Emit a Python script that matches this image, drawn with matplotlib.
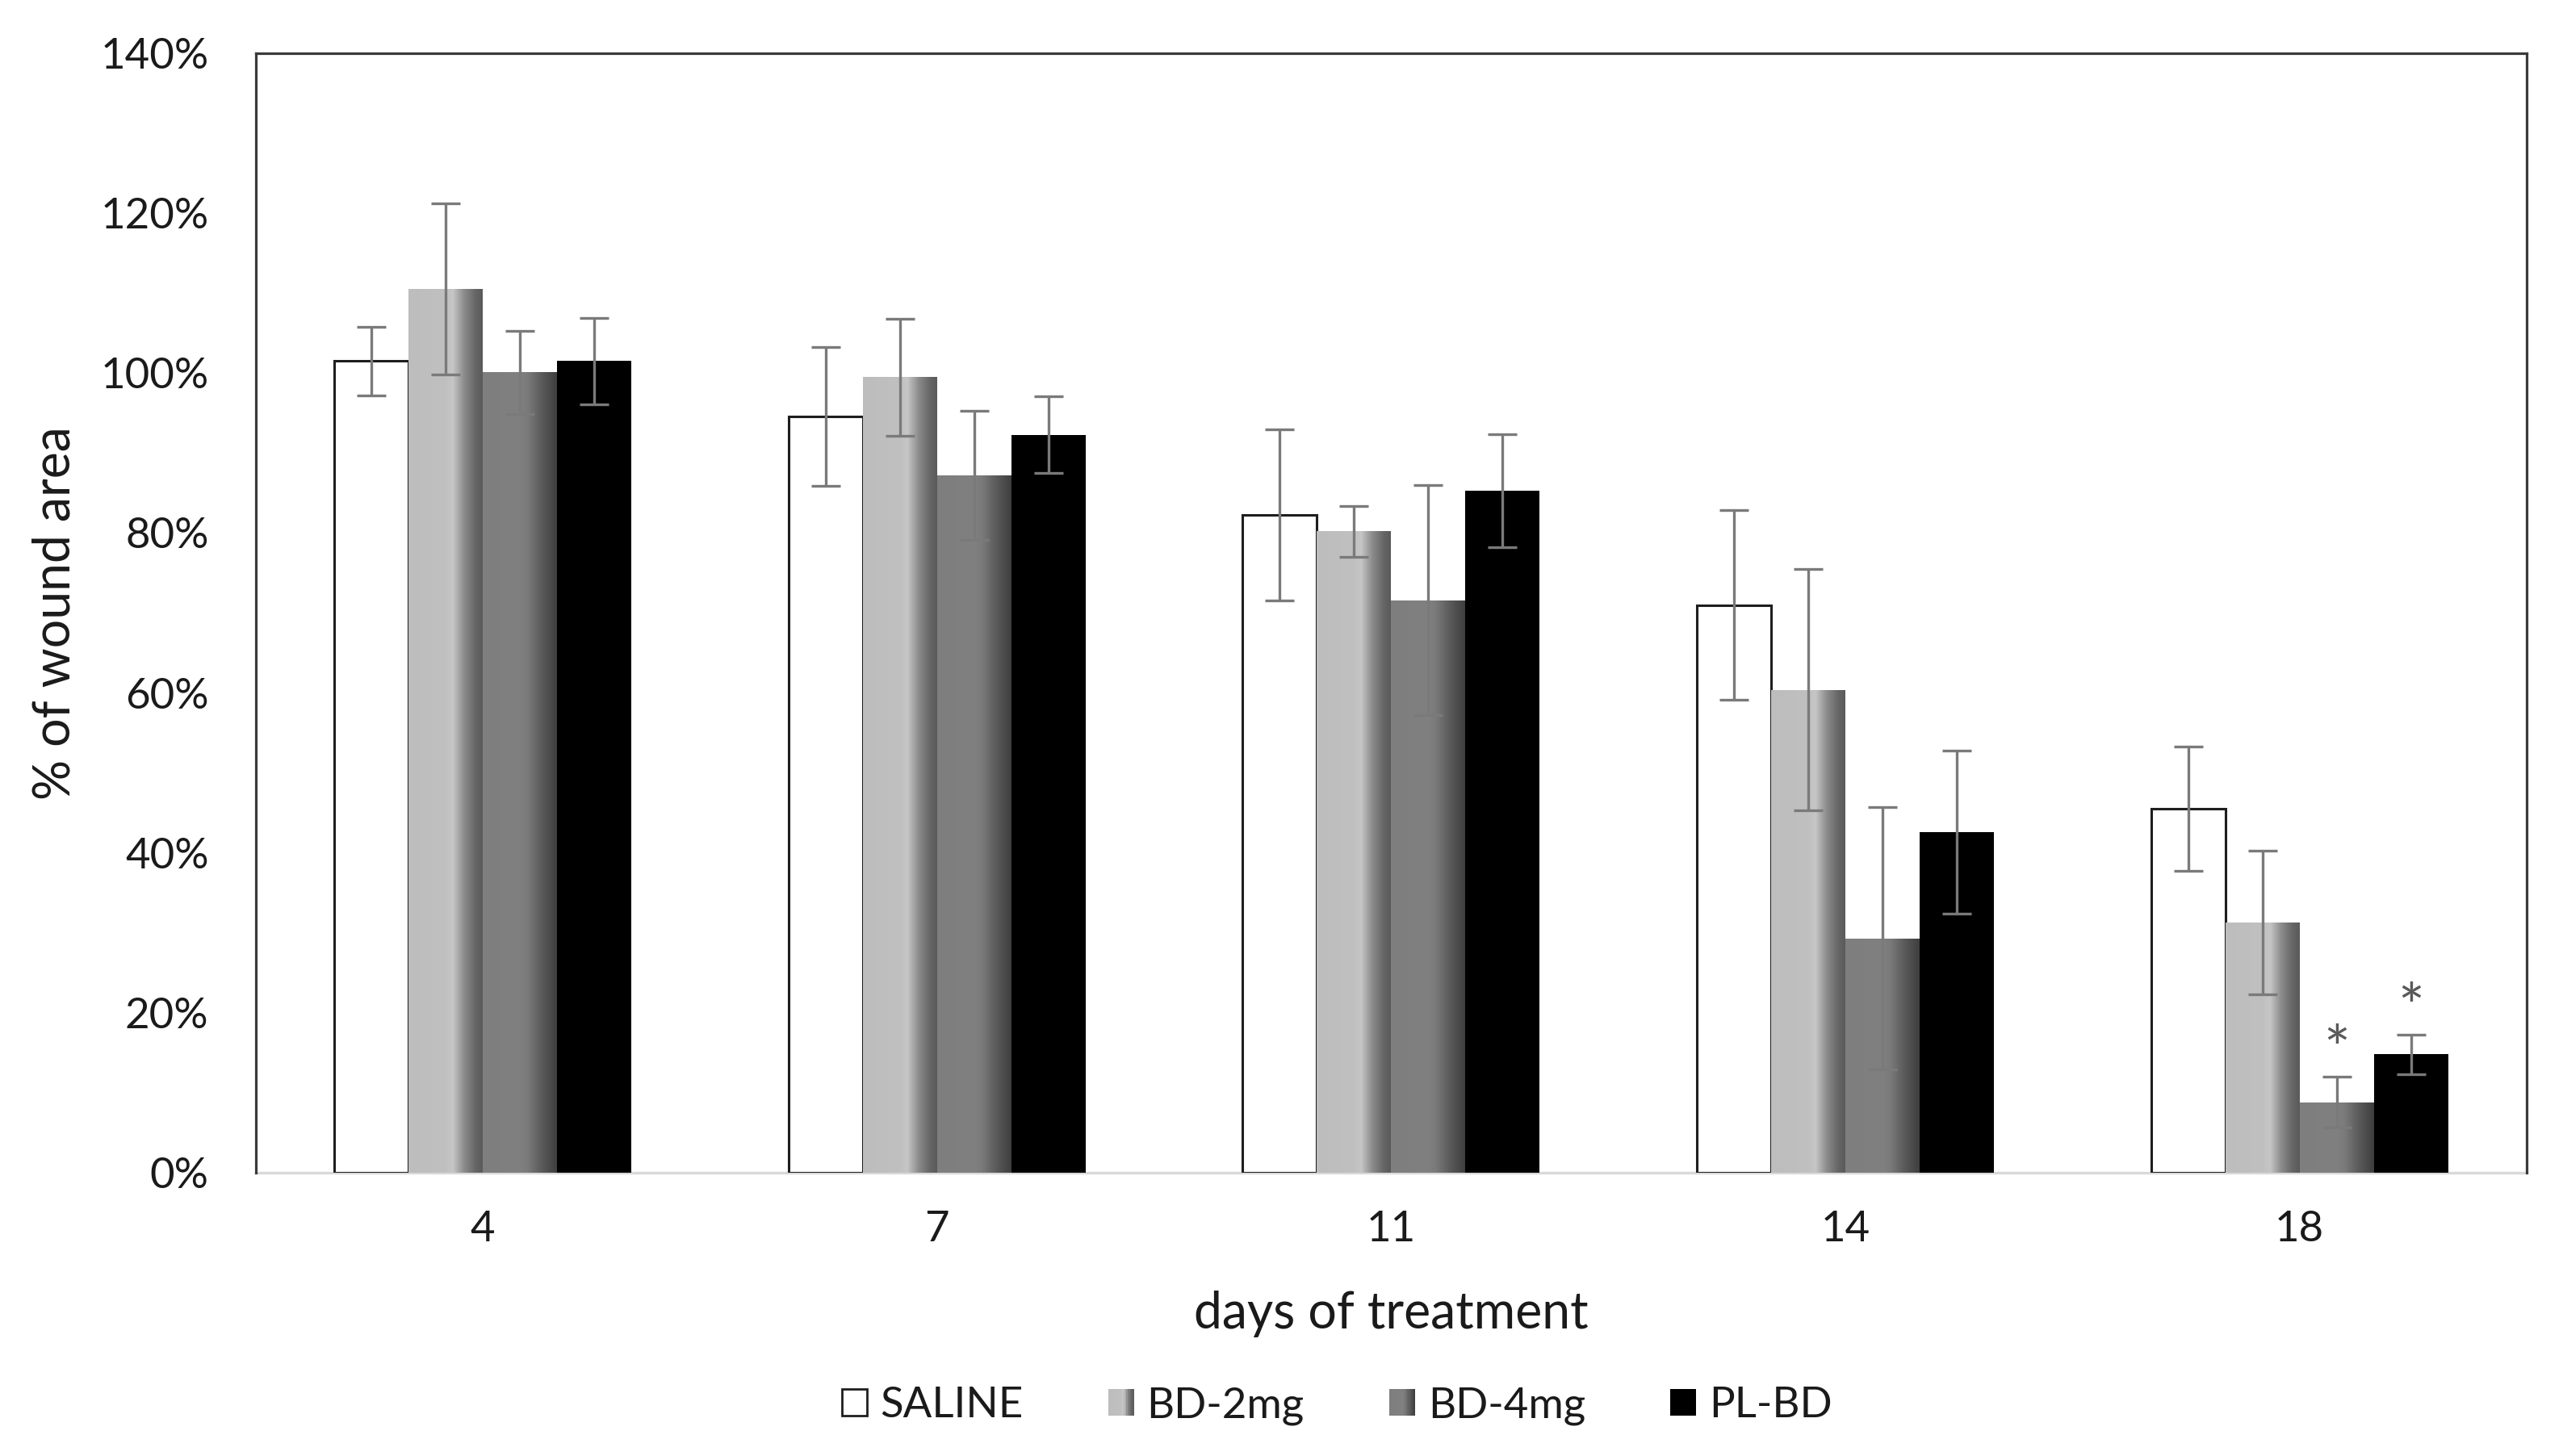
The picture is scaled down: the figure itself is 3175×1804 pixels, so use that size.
import numpy as np
import matplotlib
matplotlib.use('Agg')
import matplotlib.pyplot as plt
from matplotlib.colors import LinearSegmentedColormap
from matplotlib.patches import Rectangle
from matplotlib.legend_handler import HandlerBase
from matplotlib.ticker import PercentFormatter

plt.rcParams['font.family'] = ['Lato', 'DejaVu Sans']

# datos (% de area de herida)
days = ['4', '7', '11', '14', '18']
groups = ['SALINE', 'BD-2mg', 'BD-4mg', 'PL-BD']

saline = [101.5, 94.6, 82.3, 71.0, 45.5]
saline_err = [4.3, 8.7, 10.7, 11.9, 7.8]
bd2 = [110.5, 99.5, 80.2, 60.4, 31.3]
bd2_err = [10.7, 7.3, 3.2, 15.1, 9.0]
bd4 = [100.1, 87.2, 71.6, 29.3, 8.8]
bd4_err = [5.2, 8.1, 14.4, 16.4, 3.2]
plbd = [101.5, 92.3, 85.3, 42.6, 14.8]
plbd_err = [5.4, 4.8, 7.1, 10.2, 2.5]

# barras con asterisco: (indice del dia, indice del grupo)
stars = [(4, 2), (4, 3)]

values = [saline, bd2, bd4, plbd]
errors = [saline_err, bd2_err, bd4_err, plbd_err]

# degradados tipo Excel
cm_bd2 = LinearSegmentedColormap.from_list('bd2', [
    (0.0, '#bdbdbd'), (0.5, '#c0c0c0'), (0.6, '#c6c6c6'),
    (0.75, '#8c8c8c'), (0.9, '#676767'), (1.0, '#5a5a5a')])
cm_bd4 = LinearSegmentedColormap.from_list('bd4', [
    (0.0, '#7e7e7e'), (0.5, '#808080'), (0.6, '#7b7b7b'),
    (0.8, '#5a5a5a'), (1.0, '#3e3e3e')])
fills = ['white', cm_bd2, cm_bd4, 'black']

fig = plt.figure(figsize=(31.75, 18.04), dpi=100)
ax = fig.add_axes([0.0998, 0.1946, 0.886, 0.7688])

x = np.arange(len(days))
w = 0.1635
grad = np.linspace(0, 1, 256).reshape(1, -1)

for i, (vals, errs, fill) in enumerate(zip(values, errors, fills)):
    pos = x + (i - 1.5) * w
    if isinstance(fill, str):
        edge = '#1e1e1e' if fill == 'white' else 'none'
        ax.bar(pos, vals, w, color=fill, edgecolor=edge, linewidth=2.2, zorder=2)
    else:
        bars = ax.bar(pos, vals, w, color='none', edgecolor='none', zorder=2)
        for b in bars:
            x0, h = b.get_x(), b.get_height()
            im = ax.imshow(grad, extent=[x0, x0 + w, 0, h], cmap=fill,
                           aspect='auto', interpolation='bilinear', zorder=2)
            im.set_clip_path(b)
    ax.errorbar(pos, vals, yerr=errs, fmt='none', ecolor='#7a7a7a',
                elinewidth=2.4, capsize=13, capthick=2.4, zorder=3)

for d, g in stars:
    xs = x[d] + (g - 1.5) * w
    ax.text(xs, values[g][d] + errors[g][d] + 0.7, '*', ha='center', va='baseline',
            fontsize=56, color='#595959', zorder=4)

ax.set_xlim(-0.5, 4.5)
ax.set_ylim(0, 140)
ax.set_yticks(np.arange(0, 141, 20))
ax.yaxis.set_major_formatter(PercentFormatter(xmax=100, decimals=0))
ax.set_xticks(x)
ax.set_xticklabels(days)
ax.tick_params(axis='both', length=0, labelsize=38, colors='#1a1a1a')
ax.tick_params(axis='y', pad=42)
ax.tick_params(axis='x', pad=34)

for s in ['top', 'right', 'left']:
    ax.spines[s].set_color('#3a3a3a')
    ax.spines[s].set_linewidth(2.3)
ax.spines['bottom'].set_color('#d9d9d9')
ax.spines['bottom'].set_linewidth(2.4)
ax.spines['bottom'].set_zorder(1)

ax.set_xlabel('days of treatment', fontsize=45, color='#1a1a1a')
ax.xaxis.set_label_coords(0.5, -0.105)
ax.set_ylabel('% of wound area', fontsize=45, color='#1a1a1a')
ax.yaxis.set_label_coords(-0.078, 0.5)


# cuadrito de leyenda con degradado
class GradientHandler(HandlerBase):
    def __init__(self, cmap):
        super().__init__()
        self.cmap = cmap

    def create_artists(self, legend, orig_handle, xdescent, ydescent,
                       width, height, fontsize, trans):
        n = 20
        arts = []
        for k in range(n):
            r = Rectangle((-xdescent + width * k / n, -ydescent), width / n + 0.3, height,
                          facecolor=self.cmap((k + 0.5) / n), edgecolor='none',
                          transform=trans)
            arts.append(r)
        return arts


handles = [Rectangle((0, 0), 1, 1, facecolor='white', edgecolor='#1e1e1e', linewidth=2.0),
           Rectangle((0, 0), 1, 1, facecolor='#999999'),
           Rectangle((0, 0), 1, 1, facecolor='#5e5e5e'),
           Rectangle((0, 0), 1, 1, facecolor='black')]
fig.legend(handles, groups, loc='center', bbox_to_anchor=(0.5216, 0.0344), ncol=4,
           frameon=False, fontsize=38, handlelength=0.6, handleheight=0.6,
           handletextpad=0.3, columnspacing=2.0, labelcolor='#1a1a1a',
           handler_map={handles[1]: GradientHandler(cm_bd2),
                        handles[2]: GradientHandler(cm_bd4)})

fig.savefig('out.png', dpi=100)
